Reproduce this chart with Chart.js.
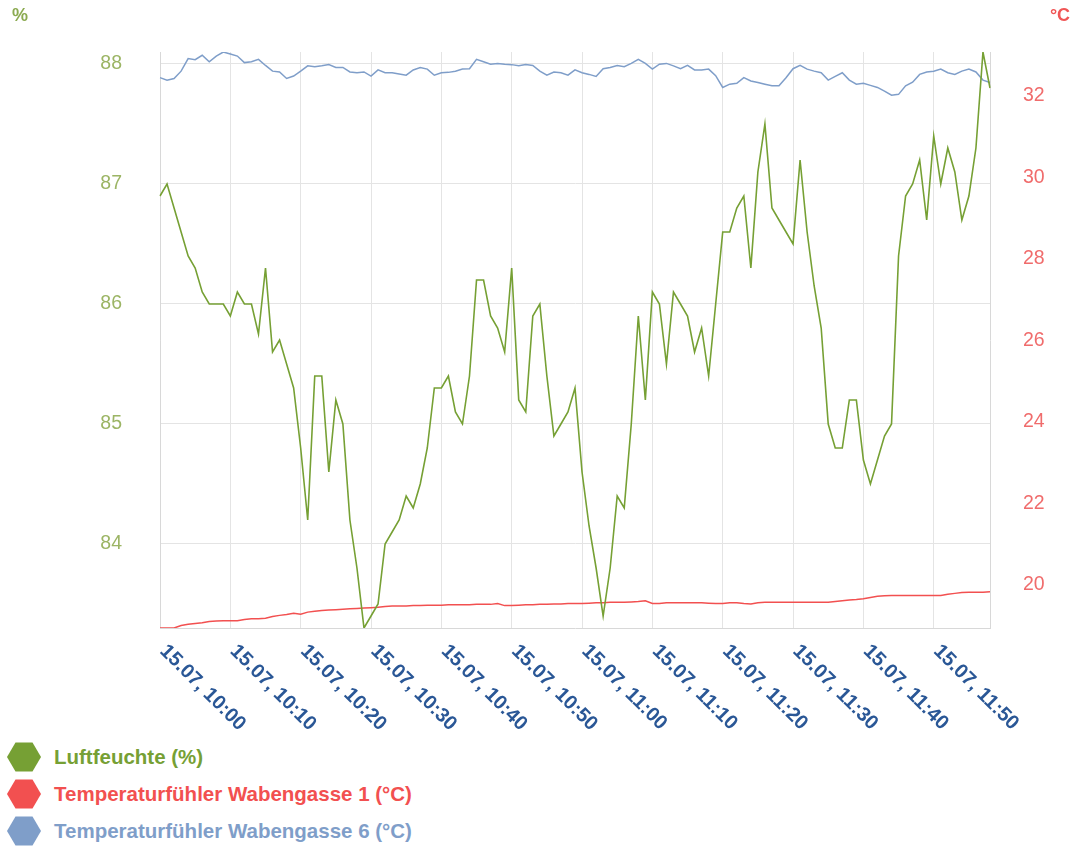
<!DOCTYPE html>
<html>
<head>
<meta charset="utf-8">
<script src="https://cdn.jsdelivr.net/npm/chart.js@4/dist/chart.umd.min.js"></script>
<style>
  html, body { margin: 0; padding: 0; background: #fff; }
  #wrap { position: relative; width: 1074px; height: 848px; overflow: hidden; }
  #chart { position: absolute; left: 0; top: 0; }
  #legend { position: absolute; left: 0; top: 742px; font: bold 20.5px "Liberation Sans", Arial, Helvetica, sans-serif; }
  .item { display: flex; align-items: center; height: 30px; margin-bottom: 7px; white-space: nowrap; }
  .item svg { margin-left: 7px; margin-right: 13px; }
</style>
</head>
<body>
<div id="wrap">
  <canvas id="chart" width="1074" height="740"></canvas>
  <div id="legend"></div>
</div>
<script>
"use strict";

var FONT = '"Liberation Sans", Arial, Helvetica, sans-serif';

// one reading per minute, 15.07. 10:00 - 11:58
var times = [];
for (var m = 0; m <= 118; m++) {
    var h = 10 + Math.floor(m / 60), mm = m % 60;
    times.push(h + ":" + (mm < 10 ? "0" : "") + mm);
}

var tickLabels = ["15.07, 10:00", "15.07, 10:10", "15.07, 10:20", "15.07, 10:30",
    "15.07, 10:40", "15.07, 10:50", "15.07, 11:00", "15.07, 11:10",
    "15.07, 11:20", "15.07, 11:30", "15.07, 11:40", "15.07, 11:50"];

var humidity = [86.9, 87.0, 86.8, 86.6, 86.4, 86.3, 86.1, 86.0, 86.0, 86.0,
    85.9, 86.1, 86.0, 86.0, 85.75, 86.3, 85.6, 85.7, 85.5, 85.3,
    84.8, 84.2, 85.4, 85.4, 84.6, 85.2, 85.0, 84.2, 83.8, 83.3,
    83.4, 83.5, 84.0, 84.1, 84.2, 84.4, 84.3, 84.5, 84.8, 85.3,
    85.3, 85.4, 85.1, 85.0, 85.4, 86.2, 86.2, 85.9, 85.8, 85.6,
    86.3, 85.2, 85.1, 85.9, 86.0, 85.4, 84.9, 85.0, 85.1, 85.3,
    84.6, 84.15, 83.8, 83.4, 83.8, 84.4, 84.3, 85.0, 85.9, 85.2,
    86.1, 86.0, 85.5, 86.1, 86.0, 85.9, 85.6, 85.8, 85.4, 86.0,
    86.6, 86.6, 86.8, 86.9, 86.3, 87.1, 87.5, 86.8, 86.7, 86.6,
    86.5, 87.2, 86.6, 86.15, 85.8, 85.0, 84.8, 84.8, 85.2, 85.2,
    84.7, 84.5, 84.7, 84.9, 85.0, 86.4, 86.9, 87.0, 87.2, 86.7,
    87.4, 87.0, 87.3, 87.1, 86.7, 86.9, 87.3, 88.1, 87.8];

var tempWabe1 = [18.94, 18.94, 18.94, 19.00, 19.03, 19.05, 19.07, 19.10, 19.11, 19.12,
    19.12, 19.12, 19.15, 19.17, 19.17, 19.18, 19.22, 19.25, 19.27, 19.30,
    19.28, 19.33, 19.35, 19.37, 19.38, 19.39, 19.40, 19.41, 19.42, 19.43,
    19.44, 19.45, 19.47, 19.48, 19.48, 19.48, 19.49, 19.49, 19.50, 19.50,
    19.50, 19.51, 19.51, 19.51, 19.51, 19.52, 19.52, 19.52, 19.54, 19.49,
    19.49, 19.50, 19.51, 19.51, 19.52, 19.52, 19.53, 19.53, 19.54, 19.54,
    19.54, 19.55, 19.56, 19.56, 19.57, 19.57, 19.57, 19.58, 19.59, 19.61,
    19.54, 19.54, 19.56, 19.56, 19.56, 19.56, 19.56, 19.56, 19.55, 19.54,
    19.54, 19.56, 19.56, 19.54, 19.53, 19.56, 19.57, 19.57, 19.57, 19.57,
    19.57, 19.57, 19.57, 19.57, 19.57, 19.57, 19.59, 19.61, 19.63, 19.64,
    19.66, 19.69, 19.72, 19.73, 19.74, 19.74, 19.74, 19.74, 19.74, 19.74,
    19.74, 19.74, 19.77, 19.79, 19.81, 19.82, 19.82, 19.82, 19.83];

var tempWabe6 = [32.45, 32.39, 32.43, 32.61, 32.92, 32.89, 33.00, 32.84, 32.98, 33.08,
    33.03, 32.98, 32.82, 32.84, 32.90, 32.75, 32.61, 32.59, 32.43, 32.49,
    32.61, 32.74, 32.72, 32.74, 32.77, 32.70, 32.70, 32.59, 32.57, 32.59,
    32.49, 32.64, 32.57, 32.57, 32.54, 32.51, 32.64, 32.70, 32.66, 32.51,
    32.57, 32.58, 32.61, 32.66, 32.67, 32.90, 32.84, 32.78, 32.80, 32.78,
    32.77, 32.74, 32.77, 32.75, 32.61, 32.51, 32.59, 32.57, 32.51, 32.64,
    32.57, 32.53, 32.48, 32.67, 32.70, 32.75, 32.72, 32.80, 32.90, 32.80,
    32.66, 32.78, 32.80, 32.74, 32.67, 32.75, 32.64, 32.64, 32.66, 32.50,
    32.21, 32.29, 32.31, 32.45, 32.37, 32.33, 32.29, 32.25, 32.25, 32.45,
    32.67, 32.75, 32.66, 32.61, 32.57, 32.39, 32.48, 32.57, 32.39, 32.29,
    32.31, 32.26, 32.21, 32.12, 32.02, 32.04, 32.25, 32.34, 32.53, 32.59,
    32.61, 32.66, 32.57, 32.53, 32.61, 32.66, 32.59, 32.39, 32.33];

var GRID = "#e4e4e4";

// unit captions and the slanted time labels
var axisDecor = {
    id: "axisDecor",
    afterDraw: function (chart) {
        var ctx = chart.ctx, area = chart.chartArea, xs = chart.scales.x;
        ctx.save();
        ctx.font = "bold 18px " + FONT;
        ctx.textAlign = "center";
        ctx.textBaseline = "middle";
        ctx.fillStyle = "#8cab52";
        ctx.fillText("%", 20, 16);
        ctx.fillStyle = "#f05656";
        ctx.fillText("°C", 1060, 16);

        ctx.font = "bold 20px " + FONT;
        ctx.fillStyle = "#2a5796";
        ctx.textAlign = "left";
        ctx.textBaseline = "top";
        tickLabels.forEach(function (lbl) {
            var idx = times.indexOf(lbl.split(", ")[1]);
            ctx.save();
            ctx.translate(xs.getPixelForValue(idx) + 10, area.bottom + 13);
            ctx.rotate(Math.PI / 4);
            ctx.fillText(lbl, 0, 0);
            ctx.restore();
        });
        ctx.restore();
    }
};

var chart = new Chart(document.getElementById("chart"), {
    type: "line",
    data: {
        labels: times,
        datasets: [{
            label: "Luftfeuchte (%)",
            data: humidity,
            yAxisID: "y",
            borderColor: "#76a034",
            backgroundColor: "#76a034",
            borderWidth: 1.6
        }, {
            label: "Temperaturfühler Wabengasse 1 (°C)",
            data: tempWabe1,
            yAxisID: "y1",
            borderColor: "#f25050",
            backgroundColor: "#f25050",
            borderWidth: 1.5
        }, {
            label: "Temperaturfühler Wabengasse 6 (°C)",
            data: tempWabe6,
            yAxisID: "y1",
            borderColor: "#7f9ec9",
            backgroundColor: "#7f9ec9",
            borderWidth: 1.5
        }]
    },
    options: {
        responsive: false,
        animation: false,
        layout: { padding: { left: 100, right: 24, top: 52, bottom: 112 } },
        elements: { point: { radius: 0 }, line: { tension: 0 } },
        plugins: { legend: { display: false }, tooltip: { enabled: false } },
        scales: {
            x: {
                ticks: { display: false },
                grid: {
                    drawTicks: false,
                    color: function (c) { return c.index % 10 === 0 ? GRID : "rgba(0,0,0,0)"; }
                },
                border: { color: "#d8d8d8" }
            },
            y: {
                position: "left",
                min: Math.min.apply(null, humidity),
                max: Math.max.apply(null, humidity),
                ticks: {
                    stepSize: 1, includeBounds: false, padding: 38,
                    color: "#9cb565", font: { family: FONT, size: 19.5 }
                },
                grid: { color: GRID, drawTicks: false },
                border: { color: "#d8d8d8" },
                afterFit: function (s) { s.width = 60; }
            },
            y1: {
                position: "right",
                min: Math.min.apply(null, tempWabe1.concat(tempWabe6)),
                max: Math.max.apply(null, tempWabe1.concat(tempWabe6)),
                ticks: {
                    stepSize: 2, includeBounds: false, padding: 33,
                    color: "#f06c6c", font: { family: FONT, size: 19.5 }
                },
                grid: { display: false, drawTicks: false },
                border: { color: "#d8d8d8" },
                afterFit: function (s) { s.width = 60; }
            }
        }
    },
    plugins: [axisDecor]
});

// legend stacked under the chart, hexagon markers
var legend = document.getElementById("legend");
chart.data.datasets.forEach(function (ds) {
    var row = document.createElement("div");
    row.className = "item";
    row.style.color = ds.borderColor;
    row.innerHTML = '<svg width="34" height="30" viewBox="0 0 34 30">' +
        '<polygon points="0,15 8.5,0.5 25.5,0.5 34,15 25.5,29.5 8.5,29.5" fill="' + ds.borderColor + '"/></svg>';
    row.appendChild(document.createTextNode(ds.label));
    legend.appendChild(row);
});
</script>
</body>
</html>
